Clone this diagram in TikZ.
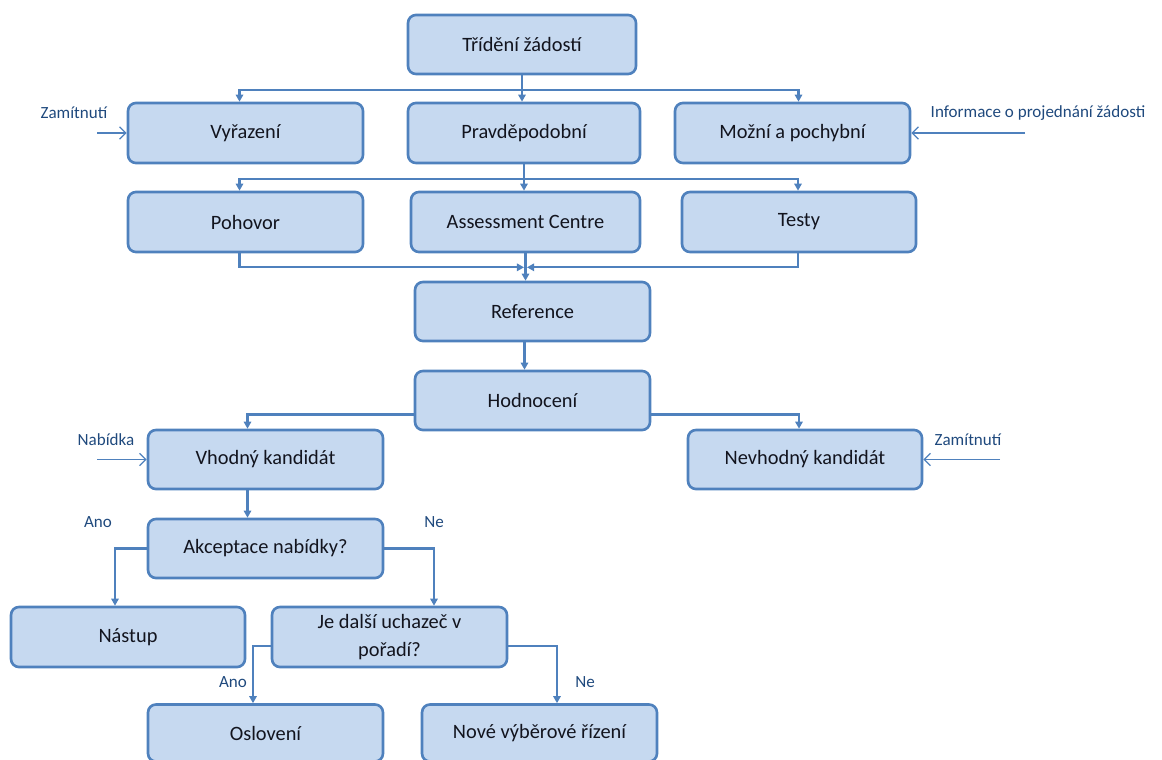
\documentclass[tikz,border=0pt]{standalone}
\usepackage{fontspec}
\setmainfont{Carlito}
\usetikzlibrary{arrows.meta,calc}
\definecolor{boxfill}{RGB}{198,217,240}
\definecolor{boxline}{RGB}{79,129,189}
\definecolor{labtext}{RGB}{31,73,125}
\definecolor{boxtext}{RGB}{18,20,30}
\begin{document}
\begin{tikzpicture}[x=0.02cm,y=-0.02cm,
  stepbox/.style={draw=boxline, fill=boxfill, line width=1.5pt, rounded corners=4.5pt,
    minimum width=4.7cm, minimum height=1.2cm, inner sep=0pt, text=boxtext,
    font=\fontsize{11.6}{16}\selectfont, align=center},
  conn/.style={draw=boxline, line width=1.35pt, -{Triangle[length=4pt,width=4.2pt]}},
  feed/.style={draw=boxline, line width=0.75pt, -{Straight Barb[length=3.5pt,width=7pt]}},
  lab/.style={text=labtext, font=\fontsize{9.7}{11}\selectfont, inner sep=0pt}]
\useasboundingbox (0,0) rectangle (1162,760);

% boxes
\node[stepbox, minimum width=4.56cm, minimum height=1.18cm] (T)  at (522,44.5) {Třídění žádostí};
\node[stepbox] (Vy) at (245.5,133) {Vyřazení};
\node[stepbox, minimum width=4.64cm] (Pr) at (524,133) {Pravděpodobní};
\node[stepbox] (Mo) at (792.5,133) {Možní a pochybní};
\node[stepbox] (Po) at (245.5,222) {Pohovor};
\node[stepbox, minimum width=4.58cm] (As) at (525.5,222) {Assessment Centre};
\node[stepbox, minimum width=4.68cm] (Te) at (799,222) {Testy};
\node[stepbox, minimum height=1.18cm] (Re) at (532.5,311.5) {Reference};
\node[stepbox, minimum height=1.18cm] (Ho) at (532.5,400.5) {Hodnocení};
\node[stepbox, minimum height=1.18cm] (Vh) at (265.5,459.5) {Vhodný kandidát};
\node[stepbox, minimum width=4.68cm, minimum height=1.18cm] (Nv) at (805,459.5) {Nevhodný kandidát};
\node[stepbox, minimum height=1.18cm] (Ak) at (265.5,548.5) {Akceptace nabídky?};
\node[stepbox, minimum width=4.68cm] (Na) at (128,637) {Nástup};
\node[stepbox] (Je) at (389.5,637) {Je další uchazeč v\\pořadí?};
\node[stepbox, minimum height=1.14cm] (Os) at (265.5,733) {Oslovení};
\node[stepbox, minimum height=1.14cm] (No) at (539.5,733) {Nové výběrové řízení};

% side labels
\node[lab] (lz1) at (74,113) {Zamítnutí};
\node[lab] (li)  at (1038,113) {Informace o projednání žádosti};
\node[lab] (ln)  at (106,440) {Nabídka};
\node[lab] (lz2) at (968,440) {Zamítnutí};
\node[lab] (la1) at (98,522) {Ano};
\node[lab] (ln1) at (434,522) {Ne};
\node[lab] (la2) at (233,682) {Ano};
\node[lab] (ln2) at (585,682) {Ne};

% incoming side arrows
\coordinate (f1) at (97,133);
\coordinate (f2) at (1025,133);
\coordinate (f3) at (97,459.5);
\coordinate (f4) at (1000,459.5);
\draw[feed] (f1) -- (Vy.west);
\draw[feed] (f2) -- (Mo.east);
\draw[feed] (f3) -- (Vh.west);
\draw[feed] (f4) -- (Nv.east);

% sorting of applications
\coordinate (j1) at ($(T.south)+(0,15)$);
\draw[conn] (T.south) -- (T.south |- Pr.north);
\draw[conn] (j1) -| ($(Vy.north)+(-6,0)$);
\draw[conn] (j1) -| ($(Mo.north)+(6,0)$);

% selection methods
\coordinate (j2) at ($(Pr.south)+(0,15)$);
\draw[conn] (Pr.south) -- (Pr.south |- As.north);
\draw[conn] (j2) -| ($(Po.north)+(-6,0)$);
\draw[conn] (j2) -| ($(Te.north)+(-1,0)$);

% merging into references
\coordinate (m) at ($(As.south)+(0,14)$);
\draw[conn] (As.south) -- (As.south |- Re.north);
\draw[conn] ($(Po.south)+(-6,0)$) |- ($(m)+(-1.5,0)$);
\draw[conn] ($(Te.south)+(-1,0)$) |- ($(m)+(1.5,0)$);
\draw[conn] ($(Re.south)+(-8,0)$) -- ($(Ho.north)+(-8,0)$);

% evaluation
\draw[conn] ($(Ho.west)+(0,14)$) -| ($(Vh.north)+(-18,0)$);
\draw[conn] ($(Ho.east)+(0,14)$) -| ($(Nv.north)+(-6,0)$);
\draw[conn] ($(Vh.south)+(-18,0)$) -- ($(Ak.north)+(-18,0)$);

% offer acceptance
\draw[conn] (Ak.west) -| ($(Na.north)+(-13,0)$);
\draw[conn] (Ak.east) -| ($(Je.north)+(44.5,0)$);
\draw[conn] ($(Je.west)+(0,9)$) -| ($(Os.north)+(-12.5,0)$);
\draw[conn] ($(Je.east)+(0,9)$) -| ($(No.north)+(17.5,0)$);
\end{tikzpicture}
\end{document}
